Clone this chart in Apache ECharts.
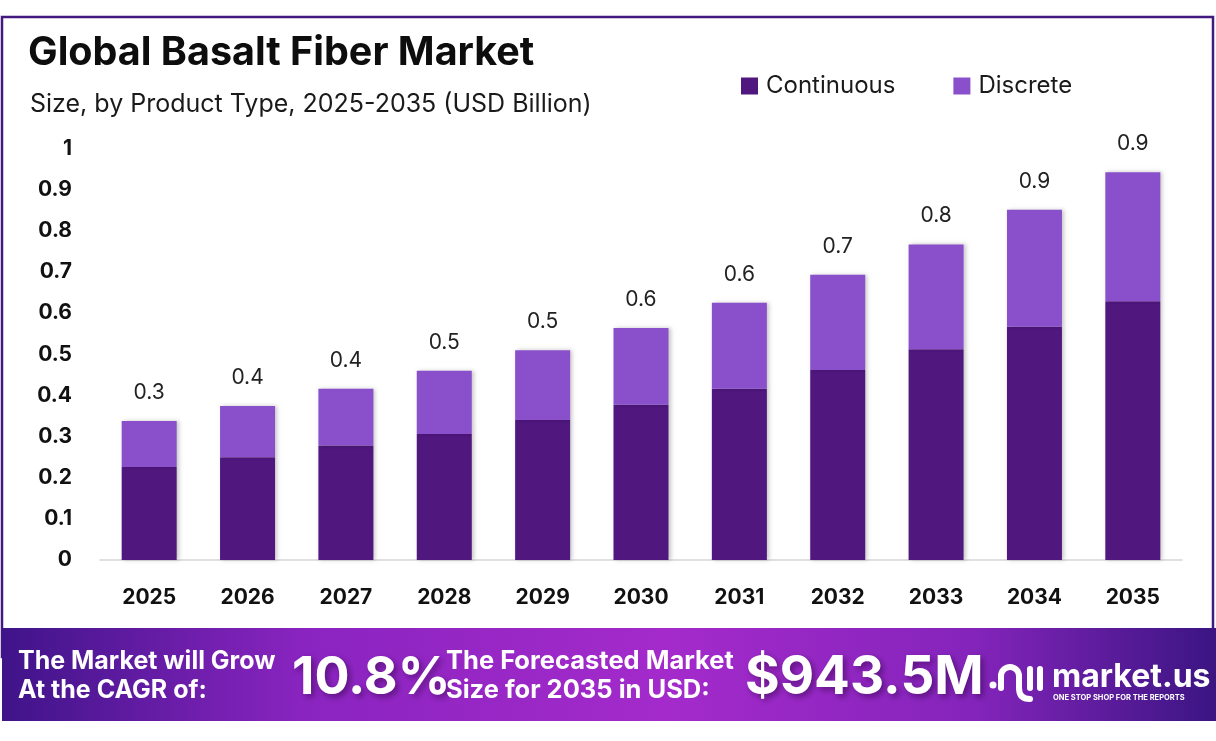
<!DOCTYPE html>
<html><head><meta charset="utf-8">
<script src="https://cdn.jsdelivr.net/npm/echarts@6/dist/echarts.min.js"></script>
<style>html,body{margin:0;padding:0;background:#fff}#c{width:1216px;height:741px}</style>
</head><body><div id="c"></div>
<script>
const years = ['2025','2026','2027','2028','2029','2030','2031','2032','2033','2034','2035'];
const continuous = [0.226,0.250,0.278,0.306,0.340,0.377,0.416,0.462,0.512,0.567,0.629];
const discrete = [0.112,0.124,0.138,0.154,0.170,0.187,0.209,0.231,0.255,0.284,0.313];
const seriesNames = ['Continuous','Discrete'];
const titleText = 'Global Basalt Fiber Market';
const subtitleText = 'Size, by Product Type, 2025-2035 (USD Billion)';
const cagrText = '10.8%';
const forecastText = '$943.5M';

const FONT = 'Inter';
const chart = echarts.init(document.getElementById('c'), null, {renderer:'canvas'});
const shadow = {shadowBlur:4, shadowColor:'rgba(0,0,0,0.22)', shadowOffsetX:2, shadowOffsetY:0};
const W = '#ffffff';

chart.setOption({
  backgroundColor:'#ffffff',
  animation:false,
  legend:{
    left:736, top:69, itemWidth:17, itemHeight:17, itemGap:58, icon:'rect',
    textStyle:{fontFamily:FONT, fontSize:24, color:'#1a1a1a', padding:[0,0,0,3]},
    data:seriesNames
  },
  grid:{left:100, right:34, top:148.5, bottom:181, containLabel:false},
  xAxis:{
    type:'category', data:years,
    axisLine:{show:true, lineStyle:{color:'#d6d6d6', width:1.5}},
    axisTick:{show:false},
    axisLabel:{fontFamily:FONT, fontWeight:'bold', fontSize:21, color:'#111', margin:27}
  },
  yAxis:{
    type:'value', min:0, max:1, interval:0.1,
    splitLine:{show:false}, axisLine:{show:false}, axisTick:{show:false},
    axisLabel:{fontFamily:FONT, fontWeight:'bold', fontSize:21, color:'#111', margin:28,
      formatter:v => (Math.round(v*10)/10).toString()}
  },
  series:[
    {name:seriesNames[0], type:'bar', stack:'t', barWidth:55, data:continuous,
     itemStyle:Object.assign({color:'#50177f'}, shadow)},
    {name:seriesNames[1], type:'bar', stack:'t', barWidth:55, data:discrete,
     itemStyle:Object.assign({color:'#8a4fcb'}, shadow),
     label:{show:true, position:'top', distance:18, fontFamily:FONT, fontSize:21, color:'#222',
       formatter:p => (continuous[p.dataIndex]+discrete[p.dataIndex]).toFixed(1)}}
  ],
  graphic:[
    {type:'rect', z:-1, shape:{x:2, y:17, width:1211, height:640},
     style:{fill:'none', stroke:'#43197f', lineWidth:2.5}},
    {type:'text', x:28, y:53, style:{text:titleText, fontFamily:FONT, fontWeight:'bold', fontSize:39.5,
      fill:'#0d0d0d', textVerticalAlign:'middle'}},
    {type:'text', x:30, y:104, style:{text:subtitleText, fontFamily:FONT, fontSize:25,
      fill:'#1a1a1a', textVerticalAlign:'middle'}},
    {type:'rect', shape:{x:2, y:628, width:1214, height:93},
     style:{fill:new echarts.graphic.LinearGradient(0,0,1,0,[
       {offset:0, color:'#3f1489'},{offset:0.25, color:'#8a24c0'},{offset:0.55, color:'#a42acb'},
       {offset:0.8, color:'#8424bb'},{offset:1, color:'#3b1582'}])}},
    {type:'text', x:18, y:661, style:{text:'The Market will Grow', fontFamily:FONT, fontWeight:'bold',
      fontSize:25, fill:W, textVerticalAlign:'middle'}},
    {type:'text', x:18, y:690, style:{text:'At the CAGR of:', fontFamily:FONT, fontWeight:'bold',
      fontSize:25, fill:W, textVerticalAlign:'middle'}},
    {type:'text', x:292, y:678, style:{text:cagrText, fontFamily:FONT, fontWeight:'bold', fontSize:52,
      fill:W, textVerticalAlign:'middle', textShadowColor:'rgba(40,0,60,0.5)', textShadowBlur:6,
      textShadowOffsetX:3, textShadowOffsetY:3}},
    {type:'text', x:446, y:661, style:{text:'The Forecasted Market', fontFamily:FONT, fontWeight:'bold',
      fontSize:25.5, fill:W, textVerticalAlign:'middle'}},
    {type:'text', x:446, y:690, style:{text:'Size for 2035 in USD:', fontFamily:FONT, fontWeight:'bold',
      fontSize:25.5, fill:W, textVerticalAlign:'middle'}},
    {type:'text', x:745, y:678, style:{text:forecastText, fontFamily:FONT, fontWeight:'bold', fontSize:53,
      fill:W, textVerticalAlign:'middle', textShadowColor:'rgba(40,0,60,0.5)', textShadowBlur:6,
      textShadowOffsetX:3, textShadowOffsetY:3}},
    {type:'circle', shape:{cx:993, cy:685, r:3.5}, style:{fill:W}},
    {type:'arc', shape:{cx:1010, cy:676, r:9, startAngle:Math.PI, endAngle:2*Math.PI, clockwise:true},
     style:{fill:'none', stroke:W, lineWidth:6}},
    {type:'line', shape:{x1:1001, y1:676, x2:1001, y2:688}, style:{stroke:W, lineWidth:6, lineCap:'round'}},
    {type:'line', shape:{x1:1019, y1:676, x2:1019, y2:688}, style:{stroke:W, lineWidth:6}},
    {type:'bezierCurve', shape:{x1:1019, y1:688, cpx1:1019, cpy1:699, x2:1030, y2:699},
     style:{fill:'none', stroke:W, lineWidth:6, lineCap:'round'}},
    {type:'line', shape:{x1:1030, y1:669, x2:1030, y2:688}, style:{stroke:W, lineWidth:6, lineCap:'round'}},
    {type:'line', shape:{x1:1040, y1:669, x2:1040, y2:688}, style:{stroke:W, lineWidth:6, lineCap:'round'}},
    {type:'text', x:1052, y:677, style:{text:'market.us', fontFamily:FONT, fontWeight:'bold', fontSize:32,
      fill:W, textVerticalAlign:'middle'}},
    {type:'text', x:1053, y:698, style:{text:'ONE STOP SHOP FOR THE REPORTS', fontFamily:FONT, fontWeight:'bold',
      fontSize:7.5, fill:W, textVerticalAlign:'middle'}}
  ]
});
</script></body></html>
